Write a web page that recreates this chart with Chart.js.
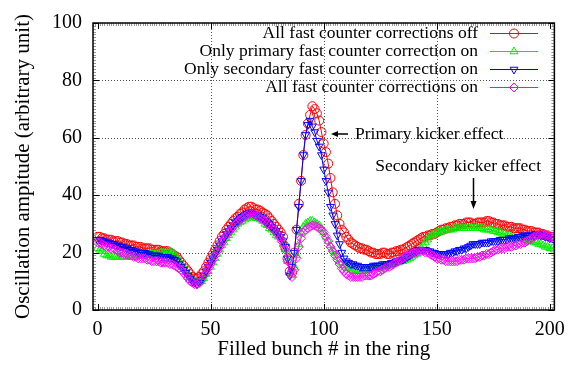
<!DOCTYPE html>
<html>
<head>
<meta charset="utf-8">
<script src="https://cdn.jsdelivr.net/npm/chart.js@4.4.0/dist/chart.umd.min.js"></script>
<style>
  html, body { margin: 0; padding: 0; background: #fff; }
  canvas { display: block; }
</style>
</head>
<body>
<canvas id="oscChart" width="573" height="365"></canvas>
<script>
// filled bunch numbers 0..202
var bunch = [0,1,2,3,4,5,6,7,8,9,10,11,12,13,14,15,16,17,18,19,20,21,22,23,24,25,26,27,28,29,
  30,31,32,33,34,35,36,37,38,39,40,41,42,43,44,45,46,47,48,49,50,51,52,53,54,55,56,57,58,59,
  60,61,62,63,64,65,66,67,68,69,70,71,72,73,74,75,76,77,78,79,80,81,82,83,84,85,86,87,88,89,
  90,91,92,93,94,95,96,97,98,99,100,101,102,103,104,105,106,107,108,109,110,111,112,113,114,115,116,117,118,119,
  120,121,122,123,124,125,126,127,128,129,130,131,132,133,134,135,136,137,138,139,140,141,142,143,144,145,146,147,148,149,
  150,151,152,153,154,155,156,157,158,159,160,161,162,163,164,165,166,167,168,169,170,171,172,173,174,175,176,177,178,179,
  180,181,182,183,184,185,186,187,188,189,190,191,192,193,194,195,196,197,198,199,200,201,202];

var allOff = [25.5,25.5,25,25,24.5,24.5,24.5,24,24,24,
  23.5,23.5,23,23,22.5,22.5,22.5,22,22,22,
  21.5,21.5,21.5,21.5,21,21,21,21,20.5,20.5,
  20.5,20.5,20,19.5,19,18.5,17.5,16.5,15.5,14.5,
  13.5,12.5,11.5,11,11,11.5,12.5,13.5,15,16.5,
  18,19.5,21,22.5,24,25.5,26.5,28,29,30,
  31,32,32.5,33.5,34,35,35.5,36,36,35.5,
  35,35,34.5,34,33.5,33,32,31,30,29,
  28,27,25.5,22,18,13.5,13,20,28,37,
  45,54,61,65,68,71,70,68.5,66,62,
  58,55,51,46,41,37,33,30,28,27,
  25.5,24.5,23.5,23,22.5,22,21.5,21.5,21,21,
  20.5,20,20,19.5,19.5,19.5,20,20,19.5,19.5,
  20,20,20.5,20.5,21,21,21.5,22,22.5,23,
  23.5,24,24.5,25,25.5,25.5,26,26,26.5,26.5,
  27,27.5,28,28,28.5,28.5,29,29,29.5,29.5,
  30,30,30,30.5,30.5,30.5,30,30,30.5,30.5,
  30.5,30.5,31,31,30.5,30.5,30,30,29.5,29.5,
  29.5,29,29,29,28.5,28.5,28.5,28.5,28,28,
  27.5,27.5,27.5,27,27,27,26.5,26.5,26,26,
  25.5,25.5,25];

var primaryOn = [21.5,21,20.5,19.5,19,19,18.5,18.5,18.5,18.5,
  18.5,18.5,18.5,18.5,18.5,18.5,18.5,18.5,19,19,
  19,19,19.5,19.5,19.5,19.5,19.5,19.5,20,20,
  20,20,20,20,19.5,18.5,17.5,16,15,14,
  12.5,11.5,10.5,10,9.5,9.5,10,11,12.5,13.5,
  15,16.5,18,19.5,21,22.5,23.5,25,26,27,
  28,29,30,30.5,31,31.5,32,32.5,32.5,32.5,
  32,32,31.5,31,30,29.5,28.5,28,27,26,
  25.5,24.5,23,21,17,13,12,15,19,23,
  27,29,30,30.5,31,31,30.5,30,29.5,28.5,
  27,25.5,24,22.5,21,20,19,17.5,16.5,15.5,
  15,14.5,14,14,13.5,13.5,13.5,13.5,14,14,
  14,14,14.5,14.5,14.5,14.5,15,15,15.5,15.5,
  16,16,16.5,16.5,17,17,17.5,17.5,18,18.5,
  19,19.5,20.5,21.5,22.5,23.5,24.5,25.5,26,26.5,
  27,27,27.5,27.5,28,28,28,28,28.5,28.5,
  28.5,28.5,28.5,28.5,28.5,28.5,28.5,28.5,28.5,28.5,
  28.5,28,28,28,28,27.5,27.5,27,27,26.5,
  26.5,26,26,25.5,25.5,25,25,25,25,24.5,
  24.5,24,24,23.5,23.5,23,23,22.5,22,22,
  21.5,21.5,21];

var secondaryOn = [24.5,24.5,24,24,23.5,23.5,23,23,22.5,22.5,
  22,22,21.5,21.5,21,21,20.5,20.5,20,20,
  20,20,19.5,19.5,19,19,19,19,18.5,18.5,
  18.5,18.5,18,18,17.5,17,16,15,14,13,
  12,11,10,9.5,9,9.5,10.5,12,13.5,15,
  16.5,18,19.5,21,22.5,24,25,26.5,27.5,28.5,
  29.5,30.5,31,32,32.5,33,33.5,34,34,33.5,
  33,33,32.5,32,31,30.5,30,29,28,27.5,
  26.5,25.5,24,22,18,12,15,20,28,36,
  45,54,61,64.5,66,64,62,59,57,54,
  49,45,41,36,33,30,26,23,20,18,
  17,16.5,16,16,15.5,15.5,15,15,15,15,
  15,15,15.5,15.5,15.5,15.5,16,16,16,16,
  16.5,16.5,17,17,17.5,17.5,18,18.5,19,19.5,
  20,20.5,21,21,21,21,20.5,20.5,20,20,
  19.5,19.5,19.5,19.5,19.5,19.5,20,20,20.5,20.5,
  21,21,21.5,21.5,22,22.5,23,23,23,23,
  23.5,23.5,23.5,23.5,24,24,24,24,24.5,24.5,
  24.5,24.5,25,25,25,25,25.5,25.5,26,26,
  26,26,26,26,26.5,26.5,26,26,25.5,25.5,
  25,25,24.5];

var allOn = [23.5,23.5,23,22.5,22,22,21.5,21.5,21,20.5,
  20,20,19.5,19.5,19,19,18.5,18.5,18,18,
  18,18,17.5,17.5,17,17,17,17,16.5,16.5,
  16.5,16.5,16,16,15.5,15,14.5,14,13,12,
  11,10,9.5,9,9,9.5,10.5,12,13,14.5,
  16,17.5,19,20.5,22,23.5,24.5,26,27,28,
  29,30,30.5,31.5,32,32.5,33,33.5,33.5,33.5,
  33,32.5,32,31.5,31,30,29.5,28.5,28,27,
  26,25,23.5,21,17,12.5,11.5,14,18,22,
  25,27,28,28.5,29,29.5,29.5,29,28.5,28,
  27,25.5,24,22,20.5,19,17.5,16,14.5,13.5,
  12.5,12,11.5,11.5,11.5,11.5,11.5,11.5,12,12,
  12,12,12.5,13,13.5,13.5,14,14.5,15,15,
  15.5,16,16.5,17,17.5,18,18.5,19,19.5,19.5,
  20,20,20.5,20.5,20.5,20,20,19.5,19,18.5,
  18,18,17.5,17.5,17,17,17,17,17,17,
  17.5,17.5,17.5,18,18,18,18,18,18.5,18.5,
  19,19,19.5,19.5,20,20.5,21,21,21.5,21.5,
  21.5,22,22,22,22.5,22.5,23,23,23.5,23.5,
  24,24.5,25,25.5,26,26,26.5,26.5,26,26,
  25.5,25.5,25];

var seriesNames = ['All fast counter corrections off', 'Only primary fast counter correction on',
  'Only secondary fast counter correction on', 'All fast counter corrections on'];
var seriesColors = ['#ff0000', '#00ee00', '#0000ff', '#ff00ff'];
var seriesMarkers = ['circle', 'triangle', 'triangle', 'rectRot'];
var seriesRotation = [0, 0, 180, 0];
var seriesValues = [allOff, primaryOn, secondaryOn, allOn];

var xTicks = [0, 50, 100, 150, 200];
var yTicks = [0, 20, 40, 60, 80, 100];

var serif = "'Liberation Serif', 'Times New Roman', serif";

function toPoints(vals) {
  return vals.map(function(v, i) { return { x: bunch[i], y: v }; });
}

var datasets = seriesValues.map(function(vals, i) {
  return {
    label: seriesNames[i],
    data: toPoints(vals),
    borderColor: seriesColors[i],
    borderWidth: 1,
    pointStyle: seriesMarkers[i],
    pointRotation: seriesRotation[i],
    pointRadius: 4.5,
    pointBorderWidth: 1,
    pointBorderColor: seriesColors[i],
    pointBackgroundColor: 'rgba(0,0,0,0)',
    tension: 0,
    order: 4 - i
  };
});

function seg(ctx, x1, y1, x2, y2) {
  ctx.beginPath(); ctx.moveTo(x1, y1); ctx.lineTo(x2, y2); ctx.stroke();
}

var frameStyle = {
  id: 'frameStyle',
  beforeDatasetsDraw: function(chart) {
    var ctx = chart.ctx, a = chart.chartArea, xs = chart.scales.x, ys = chart.scales.y;
    ctx.save();
    ctx.strokeStyle = '#555';
    ctx.lineWidth = 1;
    ctx.setLineDash([1, 2]);
    [50, 100, 150].forEach(function(v) {
      var px = Math.round(xs.getPixelForValue(v)) + 0.5;
      seg(ctx, px, a.top, px, a.bottom);
    });
    [20, 40, 60, 80].forEach(function(v) {
      var py = Math.round(ys.getPixelForValue(v)) + 0.5;
      seg(ctx, a.left, py, a.right, py);
    });
    ctx.restore();
  },
  afterDatasetsDraw: function(chart) {
    var ctx = chart.ctx, a = chart.chartArea, xs = chart.scales.x, ys = chart.scales.y;
    ctx.save();
    // minor ticks
    ctx.strokeStyle = '#999';
    ctx.lineWidth = 1;
    for (var v = -2; v <= 202; v++) {
      var px = Math.round(xs.getPixelForValue(v)) + 0.5;
      seg(ctx, px, a.bottom, px, a.bottom - 3);
      seg(ctx, px, a.top, px, a.top + 3);
    }
    for (var w = 1; w < 100; w++) {
      var py = Math.round(ys.getPixelForValue(w)) + 0.5;
      seg(ctx, a.left, py, a.left + 3, py);
      seg(ctx, a.right, py, a.right - 3, py);
    }
    // major ticks
    ctx.strokeStyle = '#000';
    xTicks.forEach(function(v) {
      var px = Math.round(xs.getPixelForValue(v)) + 0.5;
      seg(ctx, px, a.bottom, px, a.bottom - 6);
      seg(ctx, px, a.top, px, a.top + 6);
    });
    yTicks.forEach(function(v) {
      var py = Math.round(ys.getPixelForValue(v)) + 0.5;
      seg(ctx, a.left, py, a.left + 6, py);
      seg(ctx, a.right, py, a.right - 6, py);
    });
    // border
    ctx.lineWidth = 1.5;
    ctx.strokeRect(a.left, a.top, a.right - a.left, a.bottom - a.top);
    ctx.restore();
  },
  afterDraw: function(chart) {
    var ctx = chart.ctx;
    ctx.save();
    // key, top right
    ctx.font = '17.5px ' + serif;
    ctx.textAlign = 'right';
    ctx.textBaseline = 'middle';
    var rowY = [33.5, 51.5, 69.5, 87.5];
    seriesNames.forEach(function(name, i) {
      ctx.fillStyle = '#000';
      ctx.fillText(name, 478, rowY[i]);
      ctx.strokeStyle = seriesColors[i];
      ctx.lineWidth = 1;
      seg(ctx, 490, rowY[i], 538, rowY[i]);
      ctx.fillStyle = 'rgba(0,0,0,0)';
      Chart.helpers.drawPoint(ctx, {
        pointStyle: seriesMarkers[i], rotation: seriesRotation[i], radius: 4.5, borderWidth: 1
      }, 514, rowY[i]);
    });
    // annotations
    ctx.fillStyle = '#000';
    ctx.strokeStyle = '#000';
    ctx.textAlign = 'left';
    ctx.fillText('Primary kicker effect', 355, 134);
    ctx.textAlign = 'right';
    ctx.fillText('Secondary kicker effect', 541, 166);
    ctx.lineWidth = 1.5;
    seg(ctx, 348, 134, 336, 134);
    ctx.beginPath(); ctx.moveTo(331, 134); ctx.lineTo(338, 131); ctx.lineTo(338, 137); ctx.closePath(); ctx.fill();
    seg(ctx, 473.5, 178, 473.5, 202);
    ctx.beginPath(); ctx.moveTo(473.5, 209); ctx.lineTo(470.5, 201); ctx.lineTo(476.5, 201); ctx.closePath(); ctx.fill();
    ctx.restore();
  }
};

var ctx = document.getElementById('oscChart').getContext('2d');
var chart = new Chart(ctx, {
  type: 'line',
  data: { datasets: datasets },
  options: {
    responsive: false,
    devicePixelRatio: 1,
    animation: false,
    events: [],
    layout: { padding: { top: 19, right: 15, left: 0, bottom: 0 } },
    plugins: { legend: { display: false }, tooltip: { enabled: false } },
    scales: {
      x: {
        type: 'linear',
        min: -2,
        max: 202,
        grid: { display: false, drawTicks: false },
        border: { display: false },
        afterBuildTicks: function(scale) { scale.ticks = xTicks.map(function(v) { return { value: v }; }); },
        afterFit: function(scale) { scale.height = 55; },
        ticks: { color: '#000', font: { family: serif, size: 20 }, padding: 8, maxRotation: 0 },
        title: { display: true, text: 'Filled bunch # in the ring', color: '#000',
          font: { family: serif, size: 21 }, padding: { top: 0, bottom: 3 } }
      },
      y: {
        min: 0,
        max: 100,
        grid: { display: false, drawTicks: false },
        border: { display: false },
        afterBuildTicks: function(scale) { scale.ticks = yTicks.map(function(v) { return { value: v }; }); },
        afterFit: function(scale) { scale.width = 93; },
        ticks: { color: '#000', font: { family: serif, size: 20 }, padding: 11 },
        title: { display: true, text: 'Oscillation ampitude (arbitrary unit)', color: '#000',
          font: { family: serif, size: 21 }, padding: { top: 11, bottom: 0 } }
      }
    }
  },
  plugins: [frameStyle]
});
</script>
</body>
</html>
